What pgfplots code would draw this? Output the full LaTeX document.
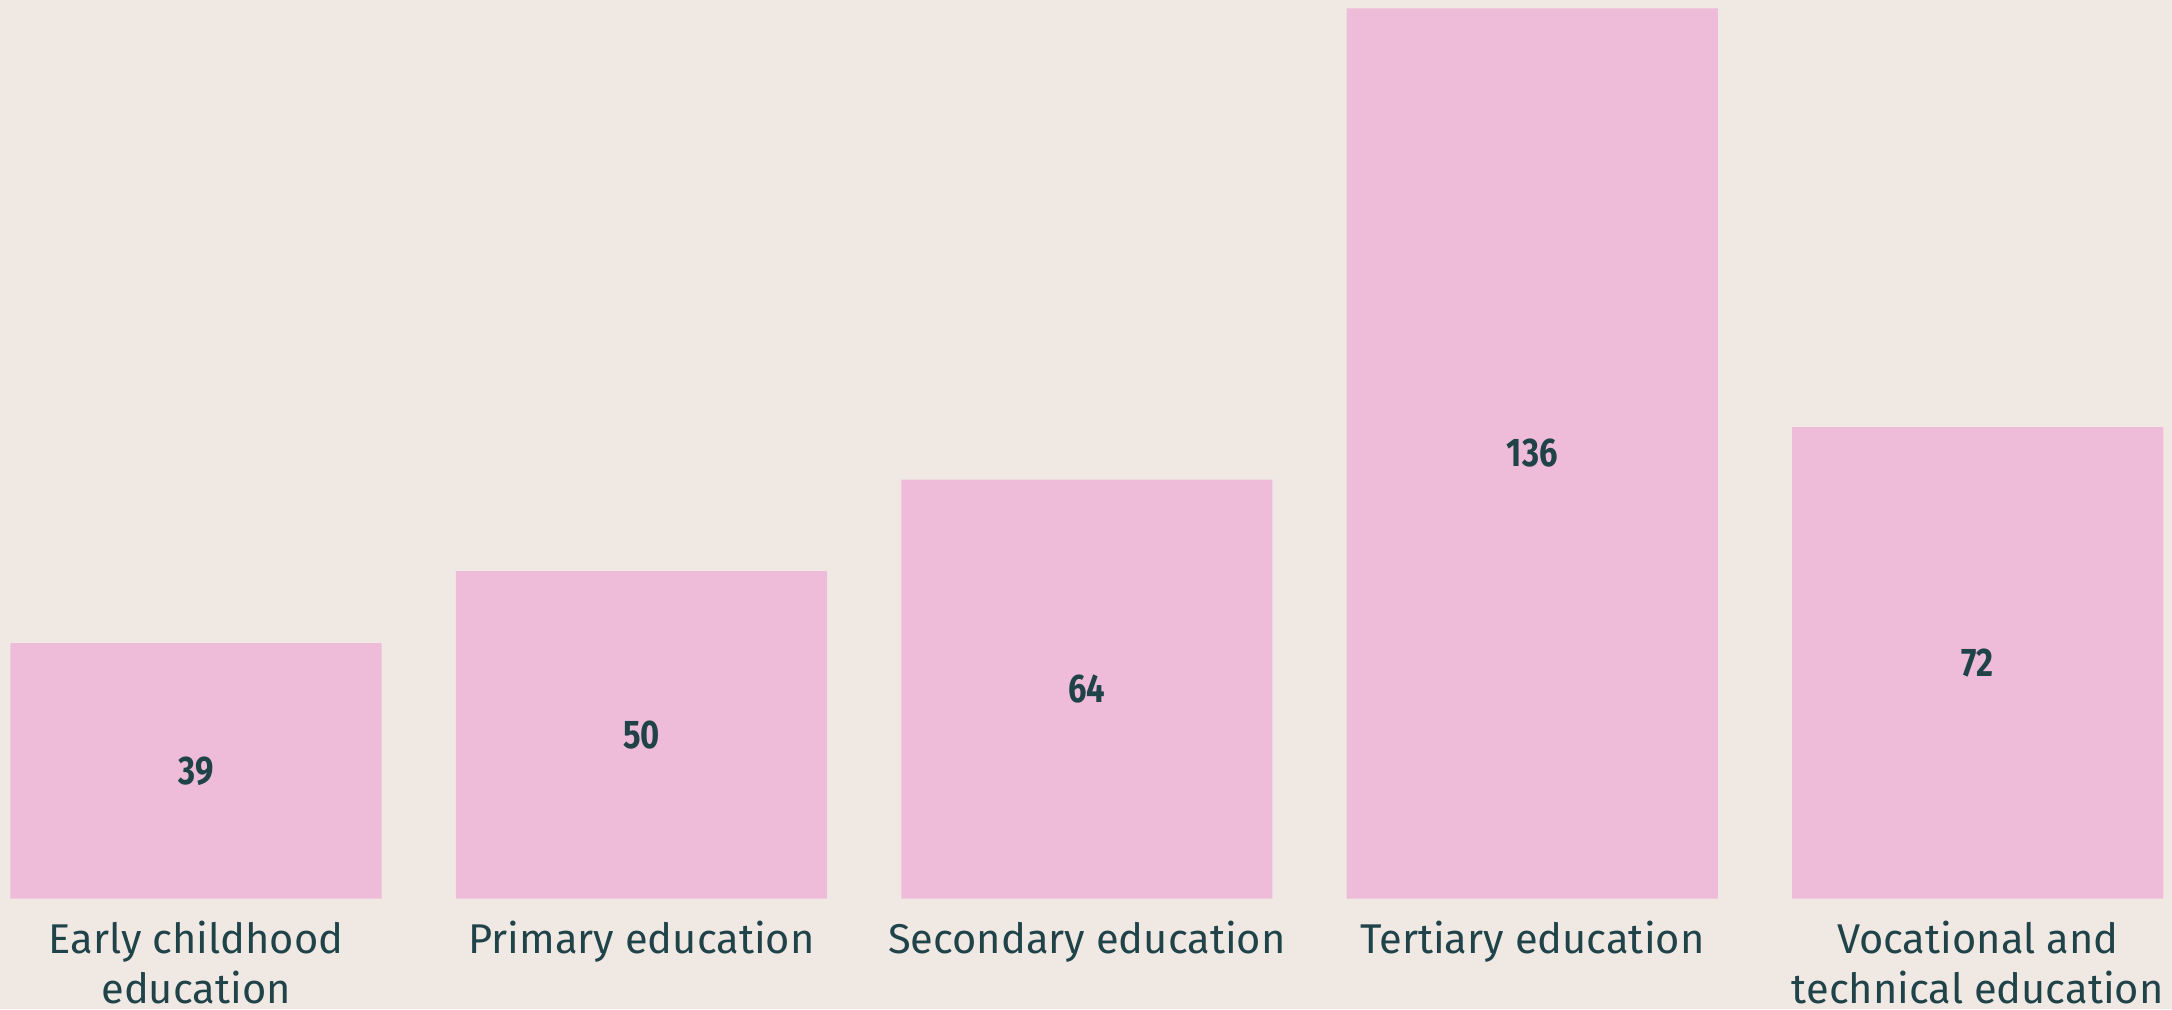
\documentclass[border=0pt]{standalone}
\usepackage{pgfplots}
\usepackage{pgfplotstable}
\pgfplotsset{compat=1.18}
\usepackage{fontspec}
\setmainfont{Fira Sans}
\newfontfamily\numfont[FakeStretch=0.82]{Fira Sans}
\definecolor{bgc}{HTML}{F0E8E2}
\definecolor{barc}{HTML}{EEBCD9}
\definecolor{txtc}{HTML}{1F4349}
\pgfplotstableread{
x y
0 39
1 50
2 64
3 136
4 72
}\datatable
\begin{document}
\begin{tikzpicture}
\fill[bgc] (0,0) rectangle (1086pt,504.5pt);
\begin{axis}[
  at={(5.5pt,55.25pt)}, anchor=south west,
  scale only axis, width=1075.85pt, height=445.1pt,
  xmin=-0.4155, xmax=4.4155, ymin=0, ymax=136,
  axis line style={draw=none},
  major tick length=0pt,
  ytick=\empty,
  xtick={0,1,2,3,4},
  xticklabels={{Early childhood\\education},{Primary education},{Secondary education},{Tertiary education},{Vocational and\\technical education}},
  xticklabel style={font=\fontsize{20.8}{25}\selectfont, text=txtc, align=center, anchor=north, yshift=-7.5pt},
  clip=false,
]
\addplot[ybar, bar width=0.8333, fill=barc, draw=none, bar shift=0pt] table[x=x,y=y] {\datatable};
\addplot[draw=none, mark=none, nodes near coords, point meta=explicit symbolic,
  every node near coord/.append style={anchor=center, font=\numfont\bfseries\fontsize{20}{24}\selectfont, text=txtc}]
  table[x=x, y expr=\thisrow{y}/2, meta=y] {\datatable};
\end{axis}
\pgfresetboundingbox
\path[use as bounding box] (0,0) rectangle (1086pt,504.5pt);
\end{tikzpicture}
\end{document}
